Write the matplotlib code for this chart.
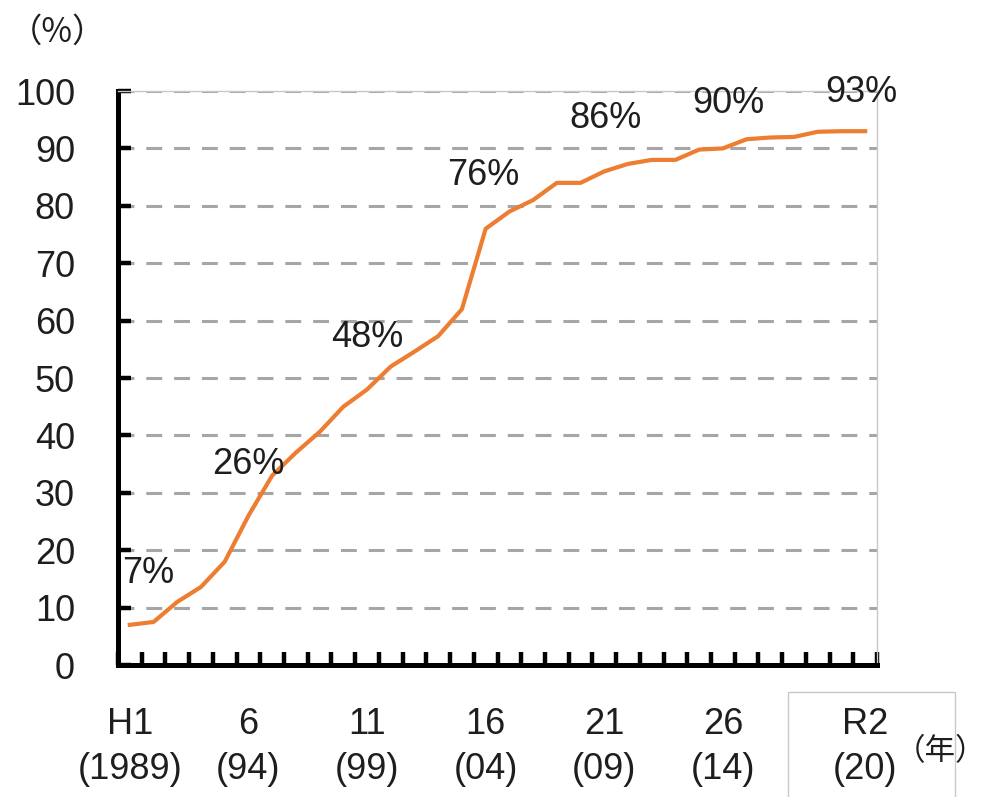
import matplotlib.pyplot as plt
from matplotlib.patches import Rectangle

# 普及率の推移（1989〜2020年）
nen = list(range(1989, 2021))
fukyuritsu = [7, 7.5, 11, 13.6, 18, 26, 33, 37, 40.6, 45,
              48, 52, 54.6, 57.3, 62, 76, 79, 81, 84, 84,
              86, 87.3, 88, 88, 89.8, 90, 91.6, 91.9, 92, 92.9,
              93, 93]

# 目盛りラベル（5年ごと）
label_idx = [0, 5, 10, 15, 20, 25, 31]
label_txt = ["H1\n(1989)", "6\n(94)", "11\n(99)", "16\n(04)",
             "21\n(09)", "26\n(14)", "R2\n(20)"]

# データラベルを付ける年と位置のずらし（ピクセル）
anno_idx = [0, 5, 10, 15, 20, 25, 31]
anno_off = [(18, 51), (0, 51), (0, 52), (-2, 53), (1, 53), (5, 45), (-4, 39)]

plt.rcParams['font.family'] = ['Liberation Sans', 'Noto Sans CJK JP']

fig = plt.figure(figsize=(9.88, 7.97), dpi=100)
ax = fig.add_axes([0.1194, 0.1656, 0.7683, 0.7202])

x = list(range(len(nen)))
ax.plot(x, fukyuritsu, color='#ED7D31', lw=3.0, solid_joinstyle='round', zorder=3)

for i, (dx, dy) in zip(anno_idx, anno_off):
    ax.annotate(f"{fukyuritsu[i]:.0f}%", (x[i], fukyuritsu[i]), xytext=(dx, dy),
                textcoords='offset pixels', ha='center', va='center',
                fontsize=26, color='#1E1E1E', zorder=4)

ax.set_xlim(-0.5, len(nen) - 0.5)
ax.set_ylim(0, 100)
ax.set_yticks(range(0, 101, 10))
for yv in range(10, 101, 10):
    ax.axhline(yv, color='#A6A6A6', lw=2.2, dashes=(5.2, 3.9), zorder=1)

ax.set_xticks(label_idx)
ax.set_xticklabels(label_txt, linespacing=1.4)
ax.set_xticks([k - 0.5 for k in range(len(nen) + 1)], minor=True)

ax.tick_params(axis='x', which='major', length=0, pad=30, labelsize=26, labelcolor='#1E1E1E')
ax.tick_params(axis='x', which='minor', direction='in', length=9.5, width=3.2, color='black')
ax.tick_params(axis='y', direction='in', length=9.5, width=3.2, pad=31,
               labelsize=26, labelcolor='#1E1E1E')

for side in ['left', 'bottom']:
    ax.spines[side].set_linewidth(3.6)
    ax.spines[side].set_color('black')
    ax.spines[side].set_capstyle('projecting')
for side in ['top', 'right']:
    ax.spines[side].set_linewidth(1.0)
    ax.spines[side].set_color('#C8C8C8')

fig.text(57 / 988, 1 - 32 / 797, "（%）", ha='center', va='center', fontsize=24,
         family=['Noto Sans CJK JP'], color='#1E1E1E')
fig.text(986 / 988, 1 - 752 / 797, "（年）", ha='right', va='center', fontsize=22,
         family=['Noto Sans CJK JP'], color='#1E1E1E')

fig.patches.append(Rectangle((788 / 988, -0.05), (955 - 788) / 988, 0.05 + 105 / 797,
                             transform=fig.transFigure, fill=False,
                             edgecolor='#C8C8C8', lw=1.0))

fig.savefig("out.png", dpi=100)
